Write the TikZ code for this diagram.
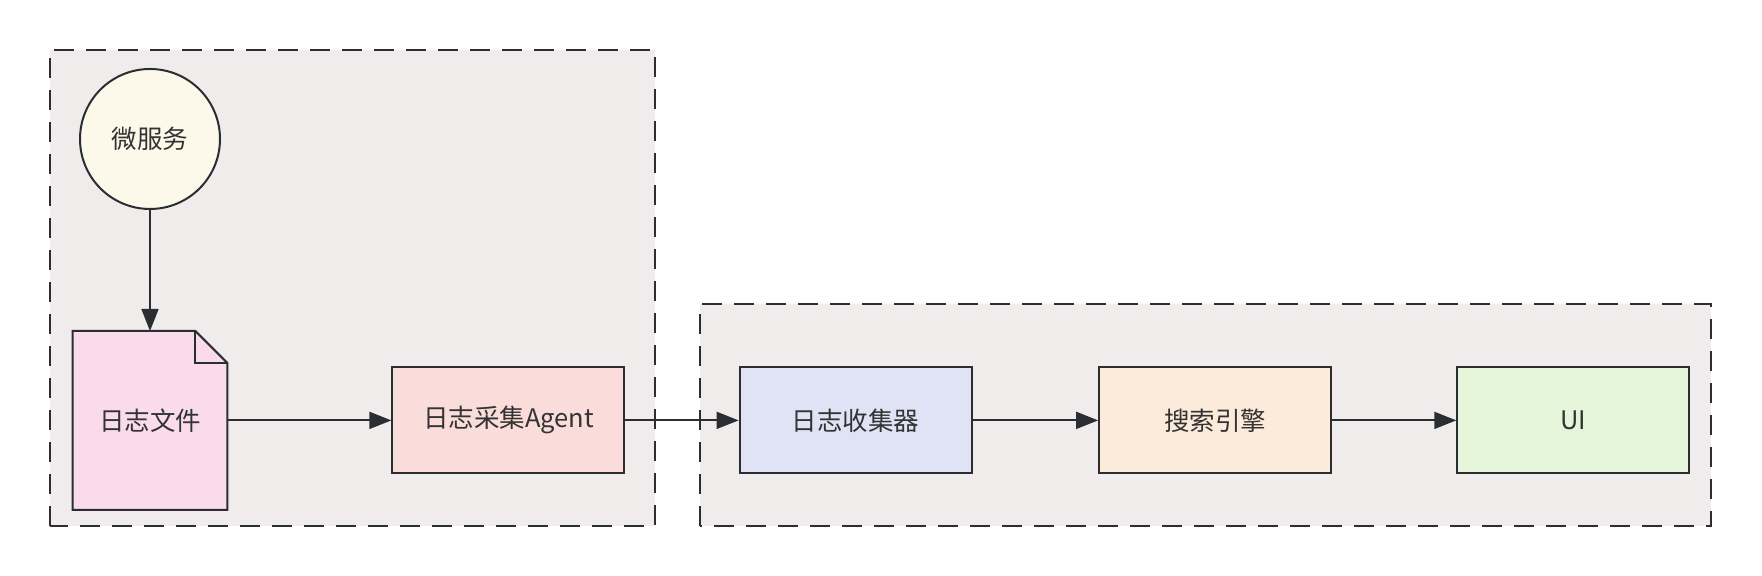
\documentclass[tikz,border=0pt]{standalone}
\usepackage{fontspec}
\newfontfamily\cjkfont{Noto Sans CJK SC}
\usetikzlibrary{arrows.meta}
\usetikzlibrary{positioning}
\usetikzlibrary{backgrounds}

\definecolor{linecol}{RGB}{42,46,51}
\definecolor{textcol}{RGB}{51,51,51}
\definecolor{groupfill}{RGB}{240,236,235}
\definecolor{svcfill}{RGB}{252,249,234}
\definecolor{filefill}{RGB}{249,219,235}
\definecolor{agentfill}{RGB}{250,220,219}
\definecolor{collfill}{RGB}{224,227,245}
\definecolor{searchfill}{RGB}{252,234,218}
\definecolor{uifill}{RGB}{228,245,218}

\tikzset{
        group/.style={draw=linecol, fill=groupfill, line width=1.3pt, dash pattern=on 10pt off 6pt},
        label text/.style={text=textcol, font=\cjkfont\fontsize{12.75}{15}\selectfont},
        box/.style={label text, draw=linecol, line width=1pt, minimum width=116pt, minimum height=53pt, inner sep=0pt},
        service/.style={label text, circle, draw=linecol, line width=1pt, minimum size=70pt, inner sep=0pt},
        flow/.style={draw=linecol, line width=0.9pt, -{Triangle[length=11pt,width=8.5pt]}}
}

\begin{document}
\begin{tikzpicture}[x=1pt, y=1pt]
        \useasboundingbox (0,0) rectangle (881,288);

        \node[service, fill=svcfill] (svc) at (75,218.5) {微服务};
        \node[label text, minimum width=77pt, minimum height=89pt, inner sep=0pt, below=60.5pt of svc] (file) {日志文件};
        \node[box, fill=agentfill, right=82pt of file] (agent) {日志采集Agent};
        \node[box, fill=collfill, right=56.6pt of agent] (collector) {日志收集器};
        \node[box, fill=searchfill, right=62.75pt of collector] (search) {搜索引擎};
        \node[box, fill=uifill, right=62.1pt of search] (ui) {UI};

        \begin{scope}[on background layer]
                \draw[group] (25,25) rectangle (327.5,263);
                \draw[group] (350,25) rectangle (855.5,136);
                \draw[draw=linecol, fill=filefill, line width=1pt, line join=miter]
                (file.south west) -- (file.north west) -- ([xshift=-16pt]file.north east)
                -- ([yshift=-16pt]file.north east) -- (file.south east) -- cycle;
                \draw[draw=linecol, line width=1pt]
                ([xshift=-16pt]file.north east) |- ([yshift=-16pt]file.north east);
        \end{scope}

        \draw
        (svc) edge[flow] (file)
        (file) edge[flow] (agent)
        (agent) edge[flow] (collector)
        (collector) edge[flow] (search)
        (search) edge[flow] (ui);
\end{tikzpicture}
\end{document}
